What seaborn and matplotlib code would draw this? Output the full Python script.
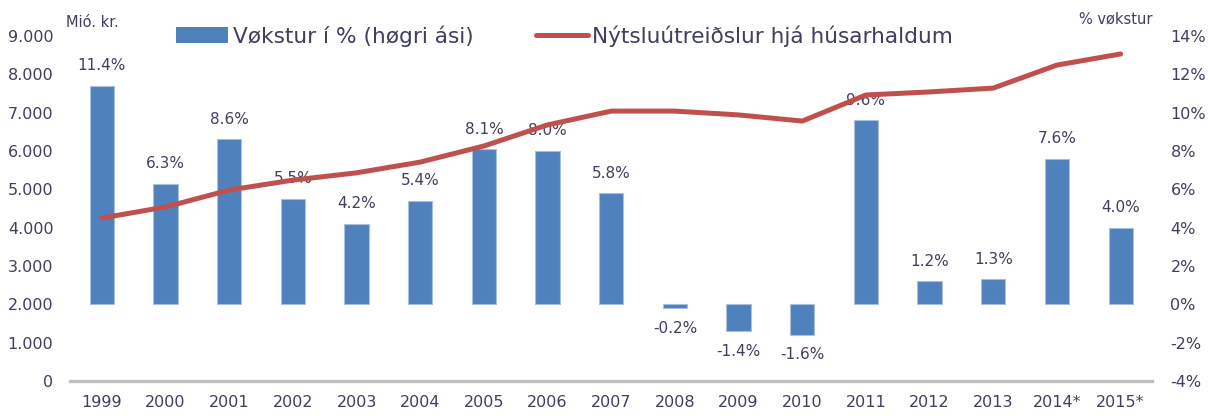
import numpy as np
import pandas as pd
import matplotlib
matplotlib.use("Agg")
import matplotlib.pyplot as plt
import seaborn as sns
from matplotlib.patches import Patch
from matplotlib.lines import Line2D
from matplotlib.ticker import FuncFormatter

# data
years = ["1999", "2000", "2001", "2002", "2003", "2004", "2005", "2006", "2007",
         "2008", "2009", "2010", "2011", "2012", "2013", "2014*", "2015*"]
growth = [11.4, 6.3, 8.6, 5.5, 4.2, 5.4, 8.1, 8.0, 5.8,
          -0.2, -1.4, -1.6, 9.6, 1.2, 1.3, 7.6, 4.0]
spending = [4250, 4540, 4980, 5240, 5430, 5710, 6130, 6680, 7040,
            7040, 6940, 6780, 7460, 7540, 7640, 8240, 8530]

df = pd.DataFrame({"year": years, "growth": growth, "spending": spending})
df["pos"] = np.arange(len(df))

BLUE = "#4F81BD"
RED = "#C0504D"
TXT = "#3F3F5F"
GREY = "#BFBFBF"

sns.set_style("white")
plt.rcParams["font.family"] = ["DejaVu Sans"]

fig, ax = plt.subplots(figsize=(12.08, 4.18), dpi=100)
fig.subplots_adjust(left=0.058, right=0.954, top=0.914, bottom=0.0885)
ax2 = ax.twinx()

# bars: growth on right axis
sns.barplot(data=df, x="year", y="growth", color=BLUE, width=0.38,
            edgecolor="#A7C0DE", linewidth=0.8, saturation=1, ax=ax2)
ax2.bar_label(ax2.containers[0], labels=[f"{v:.1f}%" for v in growth],
              padding=9, fontsize=11, color=TXT)

# line: spending on left axis, drawn above the bars
sns.lineplot(data=df, x="pos", y="spending", color=RED, linewidth=3.6,
             solid_capstyle="round", ax=ax)
ax.set_zorder(ax2.get_zorder() + 1)
ax.patch.set_visible(False)

ax.set_xlim(-0.5, len(df) - 0.5)
ax2.set_xlim(-0.5, len(df) - 0.5)
ax.set_ylim(0, 9000)
ax.set_yticks(np.arange(0, 9001, 1000))
ax.yaxis.set_major_formatter(FuncFormatter(lambda v, p: f"{v:,.0f}".replace(",", ".")))
ax2.set_ylim(-4, 14)
ax2.set_yticks(np.arange(-4, 15, 2))
ax2.yaxis.set_major_formatter(FuncFormatter(lambda v, p: f"{v:.0f}%"))

ax.set_xticks(df["pos"])
ax.set_xticklabels(years)
ax.set_xlabel("")
ax.set_ylabel("")
ax2.set_xlabel("")
ax2.set_ylabel("")

for a in (ax, ax2):
    for s in ["top", "left", "right", "bottom"]:
        a.spines[s].set_visible(False)
    a.tick_params(axis="both", length=0, labelsize=11.5, labelcolor=TXT)
ax.tick_params(axis="y", pad=12)
ax2.tick_params(axis="y", pad=13)
ax.tick_params(axis="x", pad=10)
ax2.tick_params(axis="x", labelbottom=False)

ax.spines["bottom"].set_visible(True)
ax.spines["bottom"].set_color(GREY)
ax.spines["bottom"].set_linewidth(2.4)
ax.set_xticks([-0.5], minor=True)
ax.tick_params(axis="x", which="minor", length=10, width=2.2, color=GREY, direction="inout")

fig.text(0.055, 0.947, "Mió. kr.", fontsize=10.5, color=TXT, ha="left", va="center")
fig.text(0.954, 0.955, "% vøkstur", fontsize=10.5, color=TXT, ha="right", va="center")

handles = [Patch(facecolor=BLUE, edgecolor="none"),
           Line2D([0], [0], color=RED, linewidth=3.6, solid_capstyle="round")]
ax.legend(handles, ["Vøkstur í % (høgri ási)", "Nýtsluútreiðslur hjá húsarhaldum"],
          loc="center", bbox_to_anchor=(0.457, 1.0), ncol=2, frameon=False,
          fontsize=15.6, labelcolor=TXT, handlelength=2.4, handleheight=0.8,
          handletextpad=0.2, columnspacing=2.9)

fig.savefig("out.png", dpi=100)
